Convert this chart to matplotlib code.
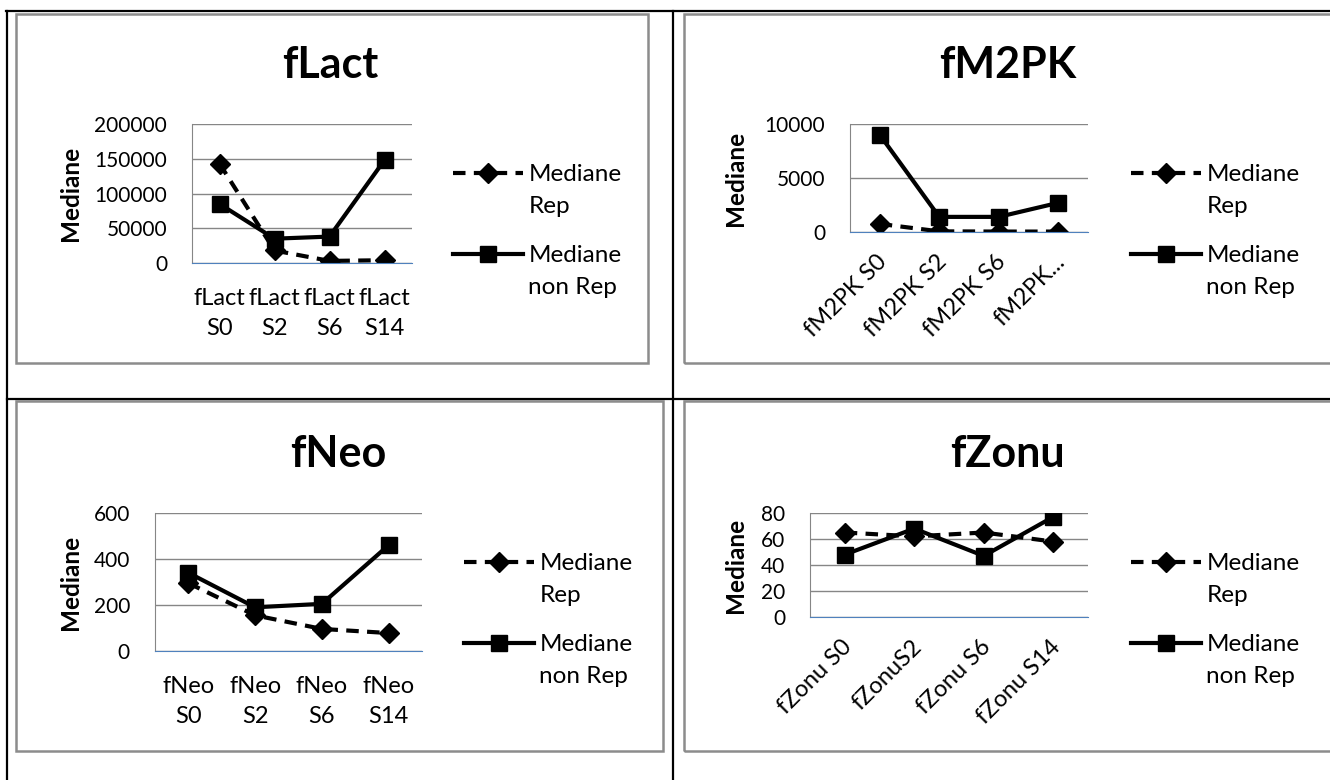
import numpy as np
import matplotlib
matplotlib.use("Agg")
import matplotlib.pyplot as plt
from matplotlib.lines import Line2D
from matplotlib.patches import Rectangle
from matplotlib.transforms import ScaledTranslation

plt.rcParams['font.family'] = ['Lato', 'DejaVu Sans']

# data
lact_cats = ["fLact\nS0", "fLact\nS2", "fLact\nS6", "fLact\nS14"]
lact_rep = [143000, 18000, 3000, 4000]
lact_nonrep = [85000, 35000, 38000, 148000]

m2pk_cats = ["fM2PK S0", "fM2PK S2", "fM2PK S6", "fM2PK..."]
m2pk_rep = [750, 60, 40, 40]
m2pk_nonrep = [9000, 1400, 1400, 2700]

neo_cats = ["fNeo\nS0", "fNeo\nS2", "fNeo\nS6", "fNeo\nS14"]
neo_rep = [295, 155, 96, 78]
neo_nonrep = [340, 190, 205, 460]

zonu_cats = ["fZonu S0", "fZonuS2", "fZonu S6", "fZonu S14"]
zonu_rep = [65, 62, 65, 58]
zonu_nonrep = [48, 68, 47, 77]

W, H = 1330, 780
fig = plt.figure(figsize=(W / 100, H / 100), dpi=100)


def fx(x):
    return x / W


def fy(y):
    return 1 - y / H


def axes_px(x0, y0, x1, y1):
    return fig.add_axes([fx(x0), fy(y1), (x1 - x0) / W, (y1 - y0) / H])


GRID = '#868686'
FS_Y = 15
FS_X = 17
FS_LEG = 17.5
DASH = (0, (3, 2))

# table lines and chart frames
for xs, ys in [((6, W), (11, 11)), ((7, 7), (11, H)), ((673, 673), (11, H)), ((7, W), (399, 399))]:
    fig.add_artist(Line2D([fx(x) for x in xs], [fy(y) for y in ys], color='black', lw=1.6,
                          transform=fig.transFigure))
for x0, y0, x1, y1 in [(16, 14, 648, 363), (684, 14, 1345, 363), (16, 401, 663, 751), (684, 401, 1345, 751)]:
    fig.add_artist(Rectangle((fx(x0), fy(y1)), (x1 - x0) / W, (y1 - y0) / H, fill=False,
                             edgecolor='#8c8c8c', lw=1.8, transform=fig.transFigure))


def chart(box, cats, rep, nonrep, ymax, ystep, title, title_pos, ylab_x, legend_pos, rotated):
    ax = axes_px(*box)
    x = np.arange(len(cats))
    ax.plot(x, rep, color='black', lw=3, linestyle=DASH, marker='D', markersize=10)
    ax.plot(x, nonrep, color='black', lw=3, marker='s', markersize=12)
    ax.set_xlim(-0.5, len(cats) - 0.5)
    ax.set_ylim(0, ymax)
    ax.set_yticks(np.arange(0, ymax + 1, ystep))
    ax.set_xticks(x)
    ax.set_axisbelow(True)
    ax.grid(axis='y', color=GRID, lw=1)
    ax.spines['top'].set_visible(False)
    ax.spines['right'].set_visible(False)
    ax.spines['left'].set_color(GRID)
    ax.spines['bottom'].set_color('#4f81bd')
    ax.tick_params(axis='y', length=0, pad=18, labelsize=FS_Y)
    if rotated:
        ax.set_xticklabels(cats, rotation=45, ha='right', va='center', rotation_mode='anchor')
        ax.tick_params(axis='x', length=0, pad=19, labelsize=FS_X)
        shift = ScaledTranslation(4 / 100, 0, fig.dpi_scale_trans)
        for lab in ax.get_xticklabels():
            lab.set_transform(lab.get_transform() + shift)
    else:
        ax.set_xticklabels(cats, linespacing=1.55)
        ax.tick_params(axis='x', length=0, pad=18, labelsize=FS_X)

    fig.text(fx(title_pos[0]), fy(title_pos[1]), title, fontsize=31, fontweight='bold',
             ha='center', va='baseline')
    fig.text(fx(ylab_x), fy((box[1] + box[3]) / 2), 'Mediane', fontsize=17.5, fontweight='bold',
             rotation=90, ha='center', va='center')

    h_rep = Line2D([], [], color='black', lw=3, linestyle=DASH, marker='D', markersize=10)
    h_non = Line2D([], [], color='black', lw=3, marker='s', markersize=12)
    blank = Line2D([], [], linestyle='none')
    lx, ly = legend_pos
    for i, (h, lab) in enumerate([(h_rep, 'Rep'), (h_non, 'non Rep')]):
        leg = ax.legend([h, blank], ['Mediane', lab], loc='upper left', frameon=False,
                        bbox_to_anchor=(fx(lx), fy(ly + i * 81)), bbox_transform=fig.transFigure,
                        fontsize=FS_LEG, handlelength=2.9, handletextpad=0.2, labelspacing=0.45,
                        borderpad=0, borderaxespad=0)
        if i == 0:
            ax.add_artist(leg)
    return ax


chart((192, 124, 412, 263), lact_cats, lact_rep, lact_nonrep, 200000, 50000,
      'fLact', (330, 78), 70, (453, 164), False)
chart((850, 124, 1088, 232), m2pk_cats, m2pk_rep, m2pk_nonrep, 10000, 5000,
      'fM2PK', (1008, 78), 735, (1131, 164), True)
chart((155, 513, 422, 651), neo_cats, neo_rep, neo_nonrep, 600, 200,
      'fNeo', (338, 467), 70, (464, 553), False)
chart((810, 513, 1088, 617), zonu_cats, zonu_rep, zonu_nonrep, 80, 20,
      'fZonu', (1007, 467), 735, (1131, 553), True)

fig.savefig('out.png', dpi=100)
